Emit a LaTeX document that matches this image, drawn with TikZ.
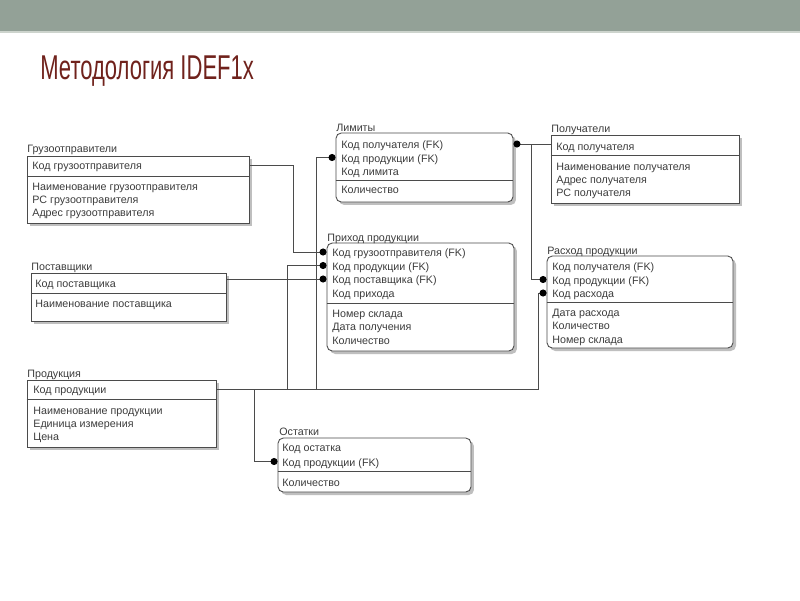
\documentclass[tikz,border=0pt]{standalone}
\usepackage{fontspec}
\setmainfont{Liberation Sans}
\newfontfamily\titlefont[FakeStretch=0.64]{Liberation Sans}
\usetikzlibrary{arrows.meta,fit,shadows}
\definecolor{bandgreen}{RGB}{147,161,151}
\definecolor{bandline}{RGB}{205,212,205}
\definecolor{titlered}{RGB}{112,34,28}
\definecolor{erdtext}{RGB}{60,60,60}
\definecolor{erdline}{RGB}{75,75,75}
\tikzset{
  erdfont/.style={font=\fontsize{6.1}{7.5}\selectfont, text=erdtext},
  entname/.style={erdfont, anchor=west, inner sep=0pt, text height=6pt, text depth=0.5pt},
  attr/.style={entname},
  entity/.style={draw=erdline, line width=0.5pt, fill=white, inner sep=0pt,
    drop shadow={shadow xshift=1.7pt, shadow yshift=-1.7pt, opacity=1, fill=gray!50}},
  depentity/.style={entity, rounded corners=3pt},
  keyline/.style={draw=erdline, line width=0.5pt},
  link/.style={draw=erdline, line width=0.55pt},
  fk/.style={link, -{Circle[length=4pt, fill=black, color=black]}},
}
\begin{document}
\begin{tikzpicture}[x=0.02cm, y=-0.02cm]
  \useasboundingbox (0,0) rectangle (800,600);
  \fill[white] (0,0) rectangle (800,600);
  \fill[bandgreen] (0,0) rectangle (800,31);
  \fill[bandline] (0,31) rectangle (800,33);
  \node[font=\titlefont\fontsize{19.6}{24}\selectfont, text=titlered,
    anchor=base west, inner sep=0pt] (title) at (40,79) {Методология IDEF1x};

  % Грузоотправители
  \node[entity, fit={(27,156) (249,223)}] (gruz) {};
  \draw[keyline] (gruz.west |- 0,176) -- (gruz.east |- 0,176);
  \node[entname] (gruz-t) at (27,148) {Грузоотправители};
  \node[attr] (gruz-1) at (32,165) {Код грузоотправителя};
  \node[attr] (gruz-2) at (32,186) {Наименование грузоотправителя};
  \node[attr] (gruz-3) at (32,199) {РС грузоотправителя};
  \node[attr] (gruz-4) at (32,212) {Адрес грузоотправителя};

  % Лимиты
  \node[depentity, fit={(336,133) (513,202)}] (lim) {};
  \draw[keyline] (lim.west |- 0,180) -- (lim.east |- 0,180);
  \node[entname] (lim-t) at (336,127) {Лимиты};
  \node[attr] (lim-1) at (341,144) {Код получателя (FK)};
  \node[attr] (lim-2) at (341,157.5) {Код продукции (FK)};
  \node[attr] (lim-3) at (341,170.5) {Код лимита};
  \node[attr] (lim-4) at (341,189) {Количество};

  % Получатели
  \node[entity, fit={(551,135) (739,203)}] (pol) {};
  \draw[keyline] (pol.west |- 0,155) -- (pol.east |- 0,155);
  \node[entname] (pol-t) at (551,128) {Получатели};
  \node[attr] (pol-1) at (556,145.5) {Код получателя};
  \node[attr] (pol-2) at (556,165.5) {Наименование получателя};
  \node[attr] (pol-3) at (556,178.5) {Адрес получателя};
  \node[attr] (pol-4) at (556,191.5) {РС получателя};

  % Поставщики
  \node[entity, fit={(31,273) (226,321)}] (post) {};
  \draw[keyline] (post.west |- 0,293) -- (post.east |- 0,293);
  \node[entname] (post-t) at (31,266) {Поставщики};
  \node[attr] (post-1) at (35,283) {Код поставщика};
  \node[attr] (post-2) at (35,302.5) {Наименование поставщика};

  % Приход продукции
  \node[depentity, fit={(327,243) (514,351)}] (prih) {};
  \draw[keyline] (prih.west |- 0,303) -- (prih.east |- 0,303);
  \node[entname] (prih-t) at (327,237) {Приход продукции};
  \node[attr] (prih-1) at (332,252) {Код грузоотправителя (FK)};
  \node[attr] (prih-2) at (332,265.5) {Код продукции (FK)};
  \node[attr] (prih-3) at (332,279) {Код поставщика (FK)};
  \node[attr] (prih-4) at (332,292.5) {Код прихода};
  \node[attr] (prih-5) at (332,313) {Номер склада};
  \node[attr] (prih-6) at (332,326) {Дата получения};
  \node[attr] (prih-7) at (332,339.5) {Количество};

  % Расход продукции
  \node[depentity, fit={(547,256) (733,348)}] (rash) {};
  \draw[keyline] (rash.west |- 0,302) -- (rash.east |- 0,302);
  \node[entname] (rash-t) at (547,249.5) {Расход продукции};
  \node[attr] (rash-1) at (552,266) {Код получателя (FK)};
  \node[attr] (rash-2) at (552,279.5) {Код продукции (FK)};
  \node[attr] (rash-3) at (552,293) {Код расхода};
  \node[attr] (rash-4) at (552,312) {Дата расхода};
  \node[attr] (rash-5) at (552,325) {Количество};
  \node[attr] (rash-6) at (552,339) {Номер склада};

  % Продукция
  \node[entity, fit={(27,380) (216,447)}] (prod) {};
  \draw[keyline] (prod.west |- 0,399.5) -- (prod.east |- 0,399.5);
  \node[entname] (prod-t) at (27,373) {Продукция};
  \node[attr] (prod-1) at (33,389) {Код продукции};
  \node[attr] (prod-2) at (33,410) {Наименование продукции};
  \node[attr] (prod-3) at (33,423) {Единица измерения};
  \node[attr] (prod-4) at (33,436) {Цена};

  % Остатки
  \node[depentity, fit={(278,438) (471,492)}] (ost) {};
  \draw[keyline] (ost.west |- 0,471) -- (ost.east |- 0,471);
  \node[entname] (ost-t) at (279,431) {Остатки};
  \node[attr] (ost-1) at (282,447) {Код остатка};
  \node[attr] (ost-2) at (282,461.5) {Код продукции (FK)};
  \node[attr] (ost-3) at (282,482) {Количество};

  % связи
  \draw[fk] (gruz-1 -| gruz.east) -| (prih-1 -| 293,0) -- (prih-1 -| prih.west);
  \draw[fk] (prih-3 -| post.east) -- (prih-3 -| prih.west);
  \draw[fk] (prod-1 -| prod.east) -| (prih-2 -| 287,0) -- (prih-2 -| prih.west);
  \draw[fk] (prod-1 -| prod.east) -| (lim-2 -| 316,0) -- (lim-2 -| lim.west);
  \draw[fk] (prod-1 -| prod.east) -| (rash-3 -| 538,0) -- (rash-3 -| rash.west);
  \draw[fk] (prod-1 -| prod.east) -| (ost-2 -| 254,0) -- (ost-2 -| ost.west);
  \draw[fk] (lim-1 -| pol.west) -- (lim-1 -| lim.east);
  \draw[fk] (lim-1 -| pol.west) -| (rash-2 -| 531,0) -- (rash-2 -| rash.west);
\end{tikzpicture}
\end{document}
